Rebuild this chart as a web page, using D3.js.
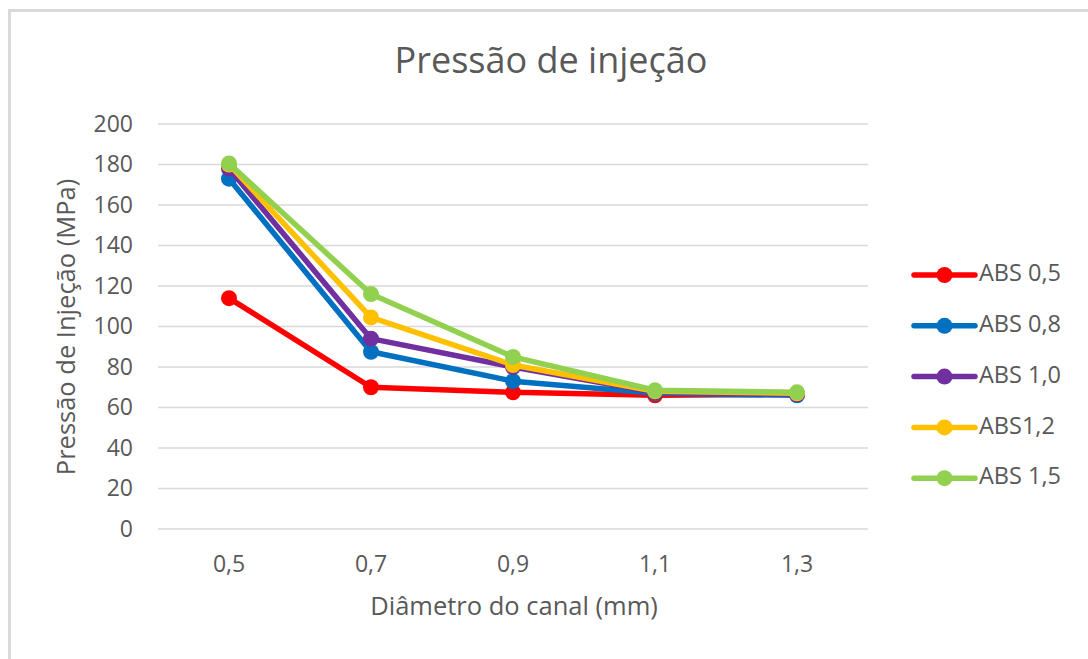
<!DOCTYPE html>
<html><head><meta charset="utf-8">
<script src="https://cdn.jsdelivr.net/npm/d3@7"></script>
<style>body{margin:0;background:#fff;} svg{display:block;} text{font-family:"Open Sans",sans-serif;}</style>
</head><body>
<svg id="c" width="1088" height="659"></svg>
<script>
const categories = ["0,5","0,7","0,9","1,1","1,3"];
const seriesNames = ["ABS 0,5","ABS 0,8","ABS 1,0","ABS1,2","ABS 1,5"];
const abs05 = [114, 70, 67.5, 66, 66.5];
const abs08 = [173, 87.5, 73, 67, 66];
const abs10 = [178, 94, 80, 67.5, 66.5];
const abs12 = [180, 104.5, 81, 68, 67];
const abs15 = [180.5, 116, 85, 68.5, 67.5];
const colors = ["#ff0000","#0070c0","#7030a0","#ffc000","#92d050"];
const yTicks = [0,20,40,60,80,100,120,140,160,180,200];
const allSeries = [abs05, abs08, abs10, abs12, abs15];

const svg = d3.select("#c");
// outer border (cropped chart frame)
svg.append("rect").attr("x",9.5).attr("y",10.5).attr("width",1200).attr("height",800)
  .attr("fill","none").attr("stroke","#d9d9d9").attr("stroke-width",3);

const pLeft = 158, pRight = 868, pTop = 124, pBottom = 529;
const x = d3.scaleBand().domain(categories).range([pLeft, pRight]);
const y = d3.scaleLinear().domain([0,200]).range([pBottom, pTop]);

// gridlines
svg.append("g").selectAll("line").data(yTicks).join("line")
  .attr("x1",pLeft).attr("x2",pRight).attr("y1",d=>y(d)).attr("y2",d=>y(d))
  .attr("stroke","#d9d9d9").attr("stroke-width",1.5);

// y axis
const yAxis = svg.append("g").attr("transform",`translate(${pLeft},0)`)
  .call(d3.axisLeft(y).tickValues(yTicks).tickSize(0).tickPadding(25));
yAxis.select(".domain").remove();
yAxis.selectAll("text").attr("font-size",23).attr("fill","#595959").attr("font-family","Open Sans");

// x axis
const xAxis = svg.append("g").attr("transform",`translate(0,${pBottom})`)
  .call(d3.axisBottom(x).tickSize(0).tickPadding(27));
xAxis.select(".domain").remove();
xAxis.selectAll("text").attr("font-size",23).attr("fill","#595959").attr("font-family","Open Sans");

const cx = d => x(d) + x.bandwidth()/2;
const line = d3.line().x((d,i)=>cx(categories[i])).y(d=>y(d));

allSeries.forEach((s,k)=>{
  const g = svg.append("g");
  g.append("path").datum(s).attr("d",line).attr("fill","none")
    .attr("stroke",colors[k]).attr("stroke-width",5.5).attr("stroke-linejoin","round");
  g.selectAll("circle").data(s).join("circle")
    .attr("cx",(d,i)=>cx(categories[i])).attr("cy",d=>y(d)).attr("r",8).attr("fill",colors[k]);
});

// title
svg.append("text").attr("x",551).attr("y",63).attr("text-anchor","middle").attr("dominant-baseline","middle")
  .attr("font-size",36).attr("fill","#595959").text("Pressão de injeção");
// x title
svg.append("text").attr("x",514).attr("y",608).attr("text-anchor","middle").attr("dominant-baseline","middle")
  .attr("font-size",25.5).attr("fill","#595959").text("Diâmetro do canal (mm)");
// y title
svg.append("text").attr("transform","translate(68,327) rotate(-90)").attr("text-anchor","middle").attr("dominant-baseline","middle")
  .attr("font-size",25.5).attr("fill","#595959").text("Pressão de Injeção (MPa)");

// legend
const leg = svg.append("g");
seriesNames.forEach((n,k)=>{
  const ly = 275 + k*50.8;
  leg.append("line").attr("x1",914).attr("x2",975).attr("y1",ly).attr("y2",ly)
    .attr("stroke",colors[k]).attr("stroke-width",5.5).attr("stroke-linecap","round");
  leg.append("circle").attr("cx",944.5).attr("cy",ly).attr("r",8).attr("fill",colors[k]);
  leg.append("text").attr("x",979).attr("y",ly).attr("dominant-baseline","middle")
    .attr("font-size",23.5).attr("fill","#595959").text(n);
});
</script>
</body></html>
